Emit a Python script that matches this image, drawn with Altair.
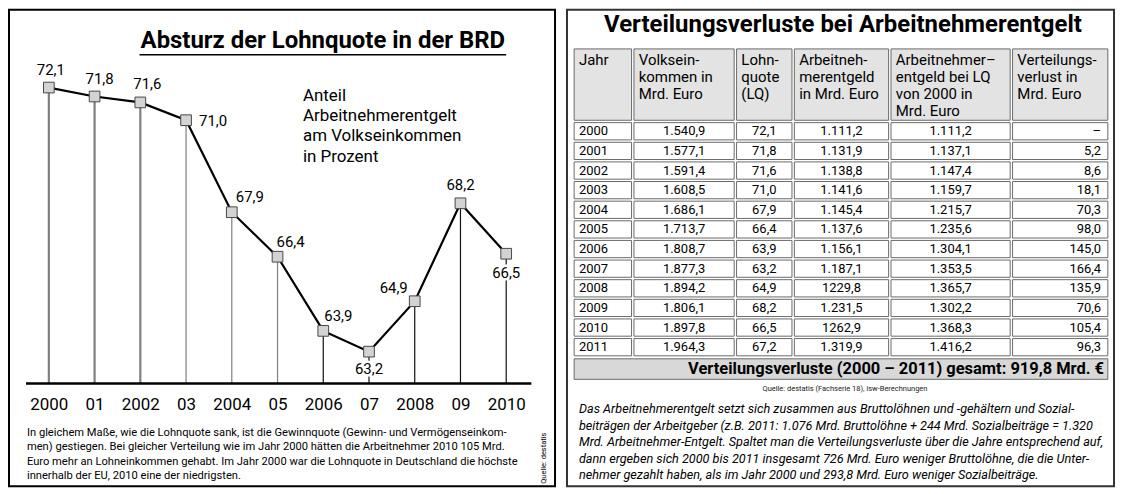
import altair as alt
import pandas as pd

# ---------------- data ----------------
years = [2000, 2001, 2002, 2003, 2004, 2005, 2006, 2007, 2008, 2009, 2010]
lohnquote = [72.1, 71.8, 71.6, 71.0, 67.9, 66.4, 63.9, 63.2, 64.9, 68.2, 66.5]
year_labels = ["2000", "01", "2002", "03", "2004", "05", "2006", "07", "2008", "09", "2010"]

table_years = ["2000", "2001", "2002", "2003", "2004", "2005", "2006", "2007", "2008", "2009", "2010", "2011"]
volkseinkommen = ["1.540,9", "1.577,1", "1.591,4", "1.608,5", "1.686,1", "1.713,7", "1.808,7", "1.877,3",
                  "1.894,2", "1.806,1", "1.897,8", "1.964,3"]
lq_table = ["72,1", "71,8", "71,6", "71,0", "67,9", "66,4", "63,9", "63,2", "64,9", "68,2", "66,5", "67,2"]
entgelt = ["1.111,2", "1.131,9", "1.138,8", "1.141,6", "1.145,4", "1.137,6", "1.156,1", "1.187,1",
           "1229,8", "1.231,5", "1262,9", "1.319,9"]
entgelt_lq2000 = ["1.111,2", "1.137,1", "1.147,4", "1.159,7", "1.215,7", "1.235,6", "1.304,1", "1.353,5",
                  "1.365,7", "1.302,2", "1.368,3", "1.416,2"]
verlust = ["–", "5,2", "8,6", "18,1", "70,3", "98,0", "145,0", "166,4", "135,9", "70,6", "105,4", "96,3"]

header_lines = [
    ["Jahr"],
    ["Volksein-", "kommen in", "Mrd. Euro"],
    ["Lohn-", "quote", "(LQ)"],
    ["Arbeitneh-", "merentgeld", "in Mrd. Euro"],
    ["Arbeitnehmer–", "entgeld bei LQ", "von 2000 in", "Mrd. Euro"],
    ["Verteilungs-", "verlust in", "Mrd. Euro"],
]
total_line = "Verteilungsverluste (2000 – 2011) gesamt: 919,8 Mrd. €"

left_title = "Absturz der Lohnquote in der BRD"
left_note = ["Anteil", "Arbeitnehmerentgelt", "am Volkseinkommen", "in Prozent"]
left_text = [
    "In gleichem Maße, wie die Lohnquote sank, ist die Gewinnquote (Gewinn- und Vermögenseinkom-",
    "men) gestiegen. Bei gleicher Verteilung wie im Jahr 2000 hätten die Arbeitnehmer 2010 105 Mrd.",
    "Euro mehr an Lohneinkommen gehabt. Im Jahr 2000 war die Lohnquote in Deutschland die höchste",
    "innerhalb der EU, 2010 eine der niedrigsten.",
]
left_source = "Quelle: destatis"

right_title = "Verteilungsverluste bei Arbeitnehmerentgelt"
right_source = "Quelle: destatis (Fachserie 18), isw-Berechnungen"
right_text = [
    "Das Arbeitnehmerentgelt setzt sich zusammen aus Bruttolöhnen und -gehältern und Sozial-",
    "beiträgen der Arbeitgeber (z.B. 2011: 1.076 Mrd. Bruttolöhne + 244 Mrd. Sozialbeiträge = 1.320",
    "Mrd. Arbeitnehmer-Entgelt. Spaltet man die Verteilungsverluste über die Jahre entsprechend auf,",
    "dann ergeben sich 2000 bis 2011 insgesamt 726 Mrd. Euro weniger Bruttolöhne, die die Unter-",
    "nehmer gezahlt haben, als im Jahr 2000 und 293,8 Mrd. Euro weniger Sozialbeiträge.",
]

# ---------------- layout / style ----------------
FONT = "Roboto"
W_L, W_R, H = 548, 549, 478
BASELINE = 62.125

one = pd.DataFrame({"k": [0]})

# ================= LEFT PANEL =================
xs = alt.Scale(domain=[1999.1285, 2011.0675], nice=False, zero=False)
ys = alt.Scale(domain=[58.668, 74.719], nice=False, zero=False)

label_expr = "[" + ",".join(f"'{s}'" for s in year_labels) + "][datum.value - 2000]"
x_axis = alt.Axis(values=years, labelExpr=label_expr, domain=False, ticks=False, tickSize=0,
                  grid=False, labelFont=FONT, labelFontSize=17, labelColor="black",
                  labelPadding=13, offset=-103, title=None, labelOverlap=False, labelFlush=False)

df = pd.DataFrame({"year": years, "lq": lohnquote})
df["label"] = [f"{v:.1f}".replace(".", ",") for v in lohnquote]
df["base"] = BASELINE

X = alt.X("year:Q", scale=xs, axis=x_axis)
Y = alt.Y("lq:Q", scale=ys, axis=None)

drops = alt.Chart(df).mark_rule().encode(
    x=X, y=Y, y2="base:Q",
    color=alt.condition(alt.datum.year <= 2005, alt.value("#7f7f7f"), alt.value("#111111")),
    strokeWidth=alt.condition(alt.datum.year <= 2002, alt.value(2.2), alt.value(1.2)),
)

base_df = pd.DataFrame({"x0": [1999.5], "x1": [2010.55], "y": [BASELINE]})
baseline = alt.Chart(base_df).mark_rule(color="black", strokeWidth=2.5).encode(
    x=alt.X("x0:Q", scale=xs, axis=x_axis), x2="x1:Q", y=alt.Y("y:Q", scale=ys, axis=None)
)

line = alt.Chart(df).mark_line(color="black", strokeWidth=2.2).encode(x=X, y=Y)
points = alt.Chart(df).mark_square(size=115, fill="#d3d3d3", stroke="#474747",
                                   strokeWidth=1, opacity=1).encode(x=X, y=Y)

placement = {
    2000: ("center", 2, -18), 2001: ("center", 5, -18), 2002: ("center", 7, -18),
    2003: ("left", 13, 1), 2004: ("left", 4, -15), 2005: ("left", -1, -15),
    2006: ("left", 1, -15), 2007: ("center", 0, 17), 2008: ("right", -7, -13),
    2009: ("center", 0, -18), 2010: ("center", 0, 19),
}
label_layers = []
for yr, (al, dx, dy) in placement.items():
    src = alt.Chart(df).transform_filter(alt.datum.year == yr)
    if dy > 0:
        label_layers.append(src.mark_text(align=al, dx=dx, dy=dy, baseline="middle", font=FONT,
                                          fontSize=15, color="white", stroke="white",
                                          strokeWidth=5).encode(x=X, y=Y, text="label:N"))
    label_layers.append(src.mark_text(align=al, dx=dx, dy=dy, baseline="middle", font=FONT,
                                      fontSize=15, color="black").encode(x=X, y=Y, text="label:N"))

title_l = alt.Chart(one).mark_text(font=FONT, fontSize=24, fontWeight="bold", align="center",
                                   baseline="middle", color="black").encode(
    x=alt.value(315), y=alt.value(31), text=alt.value(left_title))
underline = alt.Chart(one).mark_rule(color="black", strokeWidth=1.6).encode(
    x=alt.value(131), x2=alt.value(499), y=alt.value(45))
note = alt.Chart(one).mark_text(font=FONT, fontSize=17, align="left", baseline="top",
                                lineHeight=20.5, color="black").encode(
    x=alt.value(295), y=alt.value(78), text=alt.value(left_note))
para_l = alt.Chart(one).mark_text(font=FONT, fontSize=11.2, align="left", baseline="top",
                                  lineHeight=14.2, color="black").encode(
    x=alt.value(18), y=alt.value(419), text=alt.value(left_text))
src_l = alt.Chart(one).mark_text(font=FONT, fontSize=7.5, angle=270, align="center",
                                 baseline="middle", color="black").encode(
    x=alt.value(537), y=alt.value(450), text=alt.value(left_source))

left = alt.layer(drops, baseline, line, points, *label_layers, title_l, underline, note,
                 para_l, src_l).properties(
    width=W_L, height=H,
    view=alt.ViewBackground(stroke="black", strokeWidth=2, fill="white"))

# ================= RIGHT PANEL =================
col_edges = [6, 66, 169, 227, 324, 446, 544]
HEAD_TOP, HEAD_BOT = 38, 112
ROW_H = 19.7
TOTAL_TOP, TOTAL_BOT = 349, 372

xr = alt.Scale(domain=[0, W_R], nice=False, zero=False)
yr_ = alt.Scale(domain=[0, H], reverse=True, nice=False, zero=False)

cells = []
for c in range(6):
    cells.append(dict(x0=col_edges[c], x1=col_edges[c + 1], y0=HEAD_TOP, y1=HEAD_BOT, kind="header"))
for r in range(len(table_years)):
    for c in range(6):
        cells.append(dict(x0=col_edges[c], x1=col_edges[c + 1], y0=HEAD_BOT + r * ROW_H,
                          y1=HEAD_BOT + (r + 1) * ROW_H, kind="body"))
cells.append(dict(x0=col_edges[0], x1=col_edges[-1], y0=TOTAL_TOP, y1=TOTAL_BOT, kind="total"))
cells_df = pd.DataFrame(cells)

rects = alt.Chart(cells_df).mark_rect(stroke="#6a6a6a", strokeWidth=1, xOffset=1.2, x2Offset=-1.2,
                                      yOffset=1.2, y2Offset=-1.2).encode(
    x=alt.X("x0:Q", scale=xr, axis=None), x2="x1:Q",
    y=alt.Y("y0:Q", scale=yr_, axis=None), y2="y1:Q",
    fill=alt.Fill("kind:N", scale=alt.Scale(domain=["header", "body", "total"],
                                            range=["#e3e3e3", "#ffffff", "#d8d8d8"]), legend=None),
)

hdr = []
for c, lines in enumerate(header_lines):
    for i, t in enumerate(lines):
        hdr.append(dict(x=col_edges[c] + 6, y=50 + 17.2 * i, t=t))
hdr_df = pd.DataFrame(hdr)
hdr_text = alt.Chart(hdr_df).mark_text(font=FONT, fontSize=15, align="left", baseline="middle",
                                       color="black").encode(
    x=alt.X("x:Q", scale=xr, axis=None), y=alt.Y("y:Q", scale=yr_, axis=None), text="t:N")

columns = [table_years, volkseinkommen, lq_table, entgelt, entgelt_lq2000, verlust]
body = []
for c, col in enumerate(columns):
    for r, t in enumerate(col):
        yc = HEAD_BOT + (r + 0.5) * ROW_H
        if c == 0:
            body.append(dict(x=col_edges[c] + 6, y=yc, t=t, al="left"))
        elif c == 5:
            body.append(dict(x=col_edges[c + 1] - 8, y=yc, t=t, al="right"))
        else:
            body.append(dict(x=(col_edges[c] + col_edges[c + 1]) / 2, y=yc, t=t, al="center"))
body_df = pd.DataFrame(body)
body_layers = []
for al in ["left", "center", "right"]:
    body_layers.append(
        alt.Chart(body_df).transform_filter(alt.datum.al == al).mark_text(
            font=FONT, fontSize=13, align=al, baseline="middle", color="black").encode(
            x=alt.X("x:Q", scale=xr, axis=None), y=alt.Y("y:Q", scale=yr_, axis=None), text="t:N"))

total_df = pd.DataFrame({"x": [col_edges[-1] - 5], "y": [(TOTAL_TOP + TOTAL_BOT) / 2], "t": [total_line]})
total_text = alt.Chart(total_df).mark_text(font=FONT, fontSize=16.5, fontWeight="bold", align="right",
                                           baseline="middle", color="black").encode(
    x=alt.X("x:Q", scale=xr, axis=None), y=alt.Y("y:Q", scale=yr_, axis=None), text="t:N")

title_r = alt.Chart(one).mark_text(font=FONT, fontSize=24, fontWeight="bold", align="center",
                                   baseline="middle", color="black").encode(
    x=alt.value(277), y=alt.value(15), text=alt.value(right_title))
src_r = alt.Chart(one).mark_text(font=FONT, fontSize=7.5, align="center", baseline="middle",
                                 color="#222222").encode(
    x=alt.value(279), y=alt.value(381), text=alt.value(right_source))
para_r = alt.Chart(one).mark_text(font=FONT, fontSize=12.7, fontStyle="italic", align="left",
                                  baseline="top", lineHeight=16.5, color="black").encode(
    x=alt.value(12), y=alt.value(395), text=alt.value(right_text))

right = alt.layer(rects, hdr_text, *body_layers, total_text, title_r, src_r, para_r).properties(
    width=W_R, height=H,
    view=alt.ViewBackground(stroke="#333333", strokeWidth=2, fill="white"))

chart = alt.hconcat(left, right, spacing=10).properties(padding=0, background="white")

chart.save("out.html", embed_options={"renderer": "svg", "actions": False})
